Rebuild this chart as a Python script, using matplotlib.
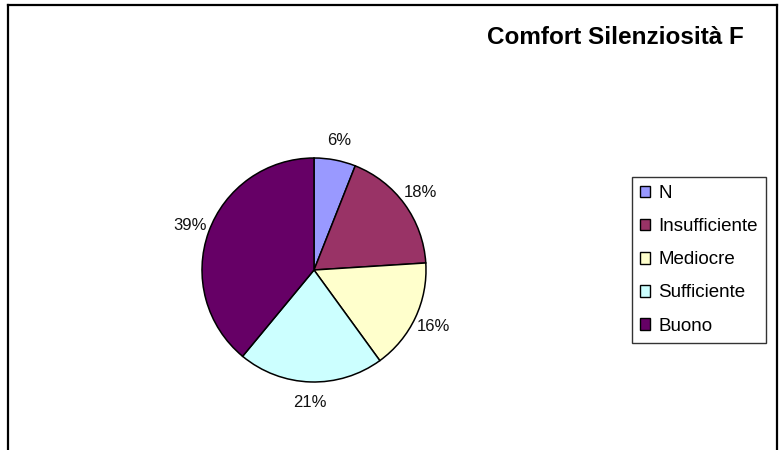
import matplotlib
matplotlib.use('Agg')
import matplotlib.pyplot as plt
from matplotlib.patches import Patch
from matplotlib.lines import Line2D

plt.rcParams['font.family'] = ['Liberation Sans', 'DejaVu Sans']

# Giudizi sulla silenziosità (percentuali)
categorie = ['N', 'Insufficiente', 'Mediocre', 'Sufficiente', 'Buono']
valori = [6, 18, 16, 21, 39]
colori = ['#9999FF', '#993366', '#FFFFCC', '#CCFFFF', '#660066']
titolo = 'Comfort Silenziosità F'

W, H = 781, 450
fig = plt.figure(figsize=(W / 100, H / 100), dpi=100)

# cornice del grafico (senza bordo inferiore)
bordo = dict(color='#000000', lw=1.6, transform=fig.transFigure)
fig.add_artist(Line2D([8 / W, 8 / W], [0, 1 - 5 / H], **bordo))
fig.add_artist(Line2D([8 / W, 777 / W], [1 - 5 / H, 1 - 5 / H], **bordo))
fig.add_artist(Line2D([777 / W, 777 / W], [0, 1 - 5 / H], **bordo))

# torta: centro (314, 270) px, raggio 112 px
cx, cy, r = 314, 270, 112
ax = fig.add_axes([(cx - r) / W, (H - cy - r) / H, 2 * r / W, 2 * r / H])
wedges, testi = ax.pie(valori, colors=colori, startangle=90, counterclock=False,
                       labels=['%d%%' % v for v in valori], labeldistance=1.18,
                       wedgeprops=dict(edgecolor='black', linewidth=1.1),
                       textprops=dict(fontsize=12, color='#111111'))
for t in testi:
    t.set_ha('center')
    t.set_va('center')
ax.set_xlim(-1, 1)
ax.set_ylim(-1, 1)
ax.set_aspect('equal')
ax.axis('off')

fig.text(744 / W, 1 - 37 / H, titolo, ha='right', va='center',
         fontsize=17.5, fontweight='bold')

maniglie = [Patch(facecolor=c, edgecolor='black', linewidth=1) for c in colori]
leg = fig.legend(maniglie, categorie, loc='upper left',
                 bbox_to_anchor=(632 / W, 1 - 177 / H),
                 fontsize=13.5, frameon=True, fancybox=False, shadow=False,
                 handlelength=0.53, handleheight=0.58, handletextpad=0.43,
                 labelspacing=0.86, borderpad=0.43, borderaxespad=0)
leg.get_frame().set_edgecolor('black')
leg.get_frame().set_linewidth(1)

fig.savefig('out.png', dpi=100)
